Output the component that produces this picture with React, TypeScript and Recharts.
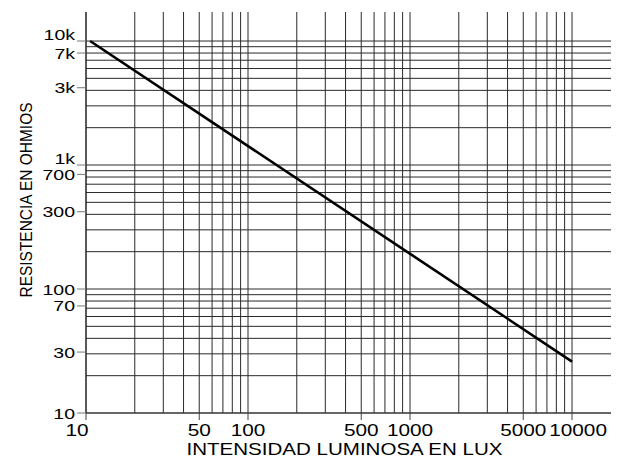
import React from 'react';
import { LineChart, Line, XAxis, YAxis, ReferenceLine } from 'recharts';

// Curve (log-log straight line)
const curve = [
  { lux: 10.6, ohm: 10000 },
  { lux: 10000, ohm: 26 },
];

const xTicks = [10, 50, 100, 500, 1000, 5000, 10000];
const xTickLabels = ['10', '50', '100', '500', '1000', '5000', '10000'];

const yTicks = [10, 31, 73, 100, 420, 840, 1000, 4200, 8000, 10000];
const yTickLabels = ['10', '30', '70', '100', '300', '700', '1k', '3k', '7k', '10k'];

const xGrid = [
  20, 30, 40, 50, 60, 70, 80, 90, 100,
  200, 300, 400, 500, 600, 700, 800, 900, 1000,
  2000, 3000, 4000, 5000, 6000, 7000, 8000, 9000, 10000,
];
const yGrid = [
  20, 30, 40, 50, 60, 70, 80, 90, 100,
  200, 300, 400, 500, 600, 700, 800, 900, 1000,
  2000, 3000, 4000, 5000, 6000, 7000, 8000, 9000, 10000,
];

const X_MAX = 17400;
const Y_MAX = 17140;

const FONT = '"Liberation Sans", Arial, Helvetica, sans-serif';
const SX = 1.3;

const XTick = (props: any) => {
  const { x, y, payload } = props;
  const i = xTicks.indexOf(payload.value);
  const label = i >= 0 ? xTickLabels[i] : String(payload.value);
  const dx = i === 0 ? -9 : i === xTicks.length - 1 ? 6 : 0;
  return (
    <g transform={`translate(${x + dx},${y + 16}) scale(${SX},1)`}>
      <text x={0} y={0} textAnchor="middle" fontSize={16} fontFamily={FONT} fill="#000">
        {label}
      </text>
    </g>
  );
};

const YTick = (props: any) => {
  const { x, y, payload } = props;
  const i = yTicks.indexOf(payload.value);
  const label = i >= 0 ? yTickLabels[i] : String(payload.value);
  const up = payload.value === 10000 || payload.value === 1000 ? -7 : 0;
  return (
    <g transform={`translate(${x - 2},${y + up + 5.5}) scale(${SX},1)`}>
      <text x={0} y={0} textAnchor="end" fontSize={15} fontFamily={FONT} fill="#000">
        {label}
      </text>
    </g>
  );
};

const XTitle = (props: any) => {
  const vb = props.viewBox || {};
  const cx = (vb.x || 0) + (vb.width || 0) / 2;
  return (
    <text
      x={cx - 4}
      y={455}
      textAnchor="middle"
      fontSize={17}
      fontFamily={FONT}
      fill="#000"
      textLength={316}
      lengthAdjust="spacingAndGlyphs"
    >
      INTENSIDAD LUMINOSA EN LUX
    </text>
  );
};

const YTitle = () => {
  return (
    <text
      transform={`translate(32,200) rotate(-90)`}
      x={0}
      y={0}
      textAnchor="middle"
      fontSize={17}
      fontFamily={FONT}
      fill="#000"
      textLength={195}
      lengthAdjust="spacingAndGlyphs"
    >
      RESISTENCIA EN OHMIOS
    </text>
  );
};

export default function App() {
  return (
    <div style={{ position: 'absolute', left: 0, top: 0, background: '#fff' }}>
      <LineChart
        width={630}
        height={459}
        data={curve}
        margin={{ top: 12, right: 19, bottom: 0, left: 0 }}
      >
        <XAxis
          dataKey="lux"
          type="number"
          scale="log"
          domain={[10, X_MAX]}
          allowDataOverflow
          ticks={xTicks}
          interval={0}
          height={46}
          tickSize={7}
          tickMargin={0}
          tick={<XTick />}
          tickLine={{ stroke: '#444' }}
          axisLine={{ stroke: '#333', strokeWidth: 1.5 }}
          label={<XTitle />}
        />
        <YAxis
          dataKey="ohm"
          type="number"
          scale="log"
          domain={[10, Y_MAX]}
          allowDataOverflow
          ticks={yTicks}
          interval={0}
          width={86}
          tickSize={9}
          tickMargin={0}
          tick={<YTick />}
          tickLine={{ stroke: '#777' }}
          axisLine={{ stroke: '#222', strokeWidth: 1.5 }}
          label={<YTitle />}
        />
        {yGrid.map((v) => (
          <ReferenceLine key={'h' + v} y={v} stroke="#2a2a2a" strokeWidth={1} />
        ))}
        {xGrid.map((v) => (
          <ReferenceLine key={'v' + v} x={v} stroke="#2a2a2a" strokeWidth={1} />
        ))}
        <Line
          dataKey="ohm"
          stroke="#000"
          strokeWidth={2.6}
          dot={false}
          isAnimationActive={false}
        />
      </LineChart>
    </div>
  );
}
